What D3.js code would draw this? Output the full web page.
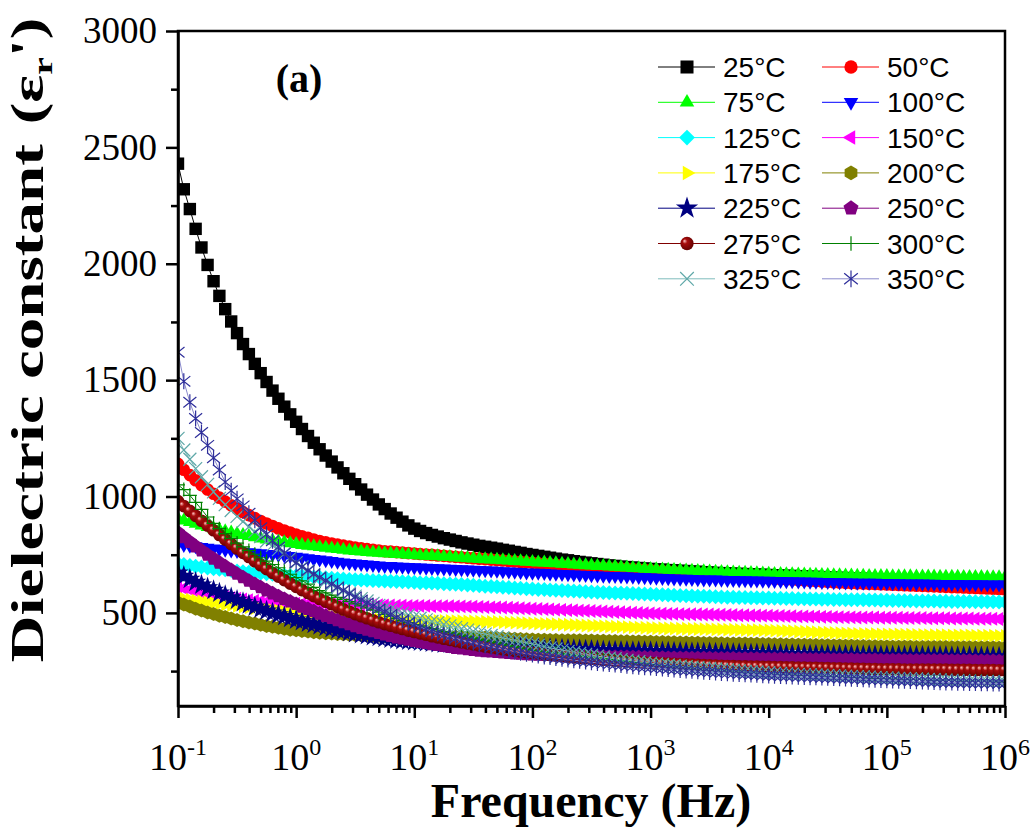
<!DOCTYPE html>
<html>
<head>
<meta charset="utf-8">
<script src="https://cdn.jsdelivr.net/npm/d3@7"></script>
<style>
  body { margin: 0; background: #fff; }
  svg { display: block; }
</style>
</head>
<body>
<svg id="chart" width="1033" height="831"></svg>
<script>
// frequency (Hz), 20 points per decade
var freqs = [0.1,0.112,0.126,0.141,0.158,0.178,0.2,0.224,0.251,0.282,0.316,0.355,0.398,0.447,0.501,0.562,0.631,0.708,0.794,0.891,
  1,1.12,1.26,1.41,1.58,1.78,2,2.24,2.51,2.82,3.16,3.55,3.98,4.47,5.01,5.62,6.31,7.08,7.94,8.91,
  10,11.2,12.6,14.1,15.8,17.8,20,22.4,25.1,28.2,31.6,35.5,39.8,44.7,50.1,56.2,63.1,70.8,79.4,89.1,
  100,112,126,141,158,178,200,224,251,282,316,355,398,447,501,562,631,708,794,891,
  1e3,1.12e3,1.26e3,1.41e3,1.58e3,1.78e3,2e3,2.24e3,2.51e3,2.82e3,3.16e3,3.55e3,3.98e3,4.47e3,5.01e3,5.62e3,6.31e3,7.08e3,7.94e3,8.91e3,
  1e4,1.12e4,1.26e4,1.41e4,1.58e4,1.78e4,2e4,2.24e4,2.51e4,2.82e4,3.16e4,3.55e4,3.98e4,4.47e4,5.01e4,5.62e4,6.31e4,7.08e4,7.94e4,8.91e4,
  1e5,1.12e5,1.26e5,1.41e5,1.58e5,1.78e5,2e5,2.24e5,2.51e5,2.82e5,3.16e5,3.55e5,3.98e5,4.47e5,5.01e5,5.62e5,6.31e5,7.08e5,7.94e5,8.91e5,
  1e6];

// dielectric constant for each temperature
var e25 = [2430,2320,2235,2150,2070,1995,1925,1862,1805,1752,1702,1655,1612,1570,1530,1492,1455,1420,1386,1353,
  1321,1290,1260,1231,1203,1176,1150,1125,1100,1076,1053,1030,1008,987,966,946,927,909,892,876,
  862,852,843,835,828,821,815,809,803,798,793,788,784,780,776,771,767,762,758,753,
  749,745,741,737,733,729,726,722,719,716,713,710,707,704,702,699,697,695,693,691,
  689,687,686,684,683,681,680,678,677,675,674,672,671,670,669,668,667,666,665,664,
  663,662,661,660,659,658,657,656,655,654,653,652,651,650,649,648,647,646,645,644,
  643,642,641,640,639,638,637,636,635,634,633,632,631,630,629,628,627,626,625,624,
  623];
var e50 = [1140,1115,1092,1070,1049,1030,1012,995,978,962,947,933,920,907,895,884,873,863,854,845,
  837,829,822,815,809,803,798,793,789,785,781,777,774,771,768,765,763,761,759,757,
  755,753,751,749,747,745,743,741,739,737,735,733,731,729,727,725,723,721,719,717,
  715,713,711,709,707,705,703,701,699,697,695,694,693,692,691,690,689,688,686,685,
  683,681,679,677,675,673,671,669,667,665,664,662,661,659,658,656,655,653,652,650,
  649,647,646,644,643,641,640,638,637,635,634,632,631,629,628,627,626,625,624,623,
  622,621,620,619,618,617,616,615,614,613,612,611,610,609,608,607,606,605,604,603,
  602];
var e75 = [905,897,890,883,876,869,863,857,851,845,840,835,830,825,820,815,811,807,803,799,
  796,792,789,786,783,780,777,774,771,768,766,764,762,760,758,756,755,753,752,750,
  749,747,746,744,743,741,740,738,737,735,734,732,731,729,728,726,725,723,722,720,
  719,717,716,714,713,711,710,708,707,705,704,702,701,699,698,696,695,693,692,690,
  689,687,686,685,684,683,682,681,680,679,678,677,676,675,674,673,672,671,670,669,
  668,667,667,666,666,665,665,664,664,663,663,662,662,661,661,660,660,659,659,658,
  658,657,657,657,657,656,656,656,656,655,655,655,655,654,654,654,654,653,653,653,
  653];
var e100 = [796,792,789,786,783,780,777,774,771,768,766,763,761,758,756,753,751,749,747,744,
  741,738,735,732,729,726,723,720,717,714,712,710,708,706,704,702,701,699,698,697,
  696,695,694,693,692,691,690,689,688,686,685,684,683,682,681,679,678,677,676,674,
  673,672,671,669,668,667,666,665,664,663,662,661,660,659,658,657,656,655,654,653,
  652,651,650,649,648,647,647,646,645,644,644,643,642,641,641,640,640,639,639,638,
  638,637,637,636,636,635,635,634,634,633,633,632,632,631,631,630,630,629,629,628,
  628,627,627,626,626,626,626,625,625,624,624,624,624,623,623,623,623,622,622,622,
  622];
var e125 = [712,708,704,700,697,693,690,687,685,682,680,677,675,672,670,668,666,664,663,661,
  660,658,656,654,653,651,649,647,646,644,642,641,640,639,638,637,636,635,634,633,
  632,630,629,628,627,625,624,623,622,620,619,617,615,613,612,610,609,607,606,604,
  603,601,600,598,597,596,595,594,593,591,590,589,588,587,586,585,584,583,582,581,
  580,579,578,577,576,575,574,573,572,571,570,569,568,567,567,566,566,565,565,564,
  564,563,563,562,562,561,561,560,560,559,559,558,558,557,557,556,556,555,555,554,
  554,553,553,552,552,551,551,551,551,550,550,549,549,549,549,548,548,548,548,547,
  547];
var e150 = [612,606,600,594,588,582,577,572,568,564,561,558,555,552,550,548,546,544,543,541,
  540,539,539,538,538,537,537,536,536,535,535,534,534,533,533,532,532,531,531,530,
  530,530,530,529,529,529,529,528,528,527,527,526,525,524,524,523,522,521,520,519,
  518,517,516,515,514,513,512,511,510,509,508,507,506,505,504,503,502,501,500,499,
  498,497,497,496,496,495,495,494,494,493,493,492,492,491,491,490,490,489,489,488,
  488,487,487,486,486,485,485,484,484,483,483,482,482,481,481,480,480,480,480,479,
  479,479,479,478,478,478,478,477,477,477,477,476,476,476,476,475,475,475,475,474,
  474];
var e175 = [565,561,557,553,550,546,543,539,536,533,530,527,524,521,518,515,512,509,506,503,
  500,497,495,492,490,487,485,483,481,479,477,475,474,473,472,471,470,469,469,468,
  468,467,467,466,466,465,465,464,464,463,463,462,462,461,461,460,459,458,457,456,
  455,454,453,452,451,450,449,448,447,446,445,444,443,442,441,440,439,438,437,436,
  435,434,434,433,433,432,432,431,431,430,430,429,429,428,428,427,427,426,426,425,
  425,424,423,422,421,420,419,418,417,416,415,414,413,412,411,410,410,409,409,408,
  408,407,407,406,406,405,405,404,404,404,404,403,403,403,403,402,402,402,402,401,
  401];
var e200 = [545,536,527,518,510,502,495,488,482,476,470,464,459,454,449,444,440,436,432,428,
  425,422,420,417,415,413,411,409,408,406,405,404,403,402,402,401,401,400,400,399,
  399,399,399,398,398,398,398,397,397,396,396,395,394,393,392,391,390,389,388,387,
  386,385,385,384,384,383,383,382,382,381,381,380,380,379,379,378,378,377,377,376,
  376,375,375,374,374,373,373,372,372,371,371,370,370,369,369,368,368,367,367,366,
  366,365,365,364,364,363,363,362,362,361,361,360,360,359,359,358,358,357,357,356,
  356,355,355,355,355,354,354,353,353,353,353,352,352,352,352,351,351,351,351,350,
  350];
var e225 = [672,658,645,632,620,608,597,586,575,565,555,545,535,526,517,508,500,492,485,477,
  470,463,457,451,445,439,433,427,422,417,412,407,403,399,395,391,388,385,382,379,
  377,375,373,371,369,367,366,364,363,361,360,359,358,357,356,355,354,353,352,351,
  350,349,348,347,346,345,344,343,342,341,340,339,338,337,337,336,336,335,335,334,
  334,333,333,332,332,331,331,330,330,329,329,328,328,327,327,326,326,325,325,324,
  324,323,323,322,322,321,321,320,320,319,319,318,318,318,318,317,317,317,317,316,
  316,316,316,315,315,315,315,314,314,314,314,313,313,313,313,312,312,312,312,311,
  311];
var e250 = [845,825,805,786,768,750,733,716,700,684,668,653,638,624,610,597,584,572,560,549,
  538,527,517,507,497,487,478,469,460,451,443,435,428,421,414,407,401,395,390,385,
  380,375,371,366,362,358,354,350,347,344,341,338,336,334,332,330,328,326,325,323,
  322,321,320,319,318,317,316,315,314,313,313,312,312,311,311,310,310,309,309,308,
  308,307,307,306,306,306,306,305,305,305,305,304,304,304,304,303,303,303,303,302,
  302,302,302,301,301,301,301,300,300,300,300,299,299,299,299,298,298,298,298,297,
  297,297,297,296,296,296,296,295,295,295,295,294,294,294,294,293,293,293,293,292,
  292];
var e275 = [980,959,938,917,896,875,855,835,815,796,777,758,740,722,705,688,672,656,641,626,
  612,598,585,572,560,548,537,526,515,505,495,486,477,468,460,452,445,438,431,424,
  418,412,406,400,395,389,384,379,374,369,365,360,356,352,348,344,341,337,334,331,
  328,325,322,319,317,314,312,309,307,305,303,301,299,297,295,293,292,290,289,287,
  286,284,283,282,281,280,279,278,277,276,275,274,273,272,271,270,270,269,269,268,
  268,267,267,266,266,265,265,264,264,263,263,262,262,261,261,260,260,259,259,258,
  258,258,258,257,257,257,257,256,256,256,256,255,255,255,255,254,254,254,254,253,
  253];
var e300 = [1050,1030,1005,975,945,912,885,862,841,820,800,784,768,752,737,722,708,694,680,666,
  652,638,624,610,596,586,576,567,558,548,539,530,521,512,503,494,485,476,467,458,
  450,444,438,432,427,421,416,410,405,399,393,387,382,376,371,366,360,355,350,345,
  340,337,334,331,328,325,322,319,316,313,310,307,304,301,298,295,292,289,286,283,
  280,278,276,274,272,270,268,266,264,262,260,258,256,254,252,250,248,246,244,242,
  240,239,238,237,235,234,233,232,231,230,229,228,227,226,225,224,222,221,220,219,
  218,217,217,216,215,214,214,213,212,211,211,210,209,208,208,207,206,205,205,204,
  203];
var e325 = [1250,1200,1160,1120,1085,1052,1020,992,965,940,915,892,870,849,828,809,790,772,755,735,
  715,697,680,665,650,636,622,609,596,584,572,561,551,541,532,523,515,507,499,491,
  484,477,470,463,457,450,444,438,432,426,420,414,409,403,398,392,387,382,377,372,
  367,361,355,350,345,340,335,330,326,322,318,314,310,306,303,299,296,293,290,287,
  284,281,279,276,274,271,269,267,265,263,261,259,257,255,253,251,249,247,246,244,
  243,241,240,238,237,236,235,234,233,232,231,230,229,228,227,226,225,224,223,222,
  221,220,219,218,217,216,215,214,213,212,211,210,209,208,207,206,205,204,204,203,
  202];
var e350 = [1620,1495,1405,1335,1275,1220,1166,1114,1062,1025,990,960,928,898,866,838,810,783,757,732,
  715,698,682,667,653,639,625,611,597,583,569,556,543,530,517,505,493,481,470,459,
  449,439,430,421,413,405,398,391,384,378,372,366,360,354,349,344,339,334,329,325,
  321,317,313,310,306,303,300,297,294,291,288,285,283,280,278,276,273,271,269,267,
  265,263,261,259,257,255,253,251,249,247,246,244,242,241,239,238,236,235,234,232,
  231,230,229,228,227,226,225,224,223,222,221,220,219,218,217,216,215,214,213,212,
  211,210,209,208,207,206,205,204,203,202,201,201,200,200,199,199,198,198,197,197,
  196];

var labels = ["25°C","50°C","75°C","100°C","125°C","150°C","175°C",
  "200°C","225°C","250°C","275°C","300°C","325°C","350°C"];
var yMajor = [500,1000,1500,2000,2500,3000];
var xExps = [-1,0,1,2,3,4,5,6];

var series = [
  {name: labels[0],  vals: e25,  color: "#000000", line: "#000000", shape: "square"},
  {name: labels[1],  vals: e50,  color: "#ff0000", line: "#ff0000", shape: "circle"},
  {name: labels[2],  vals: e75,  color: "#00ff00", line: "#00ff00", shape: "triUp"},
  {name: labels[3],  vals: e100, color: "#0000ff", line: "#0000ff", shape: "triDown"},
  {name: labels[4],  vals: e125, color: "#00ffff", line: "#00ffff", shape: "diamond"},
  {name: labels[5],  vals: e150, color: "#ff00ff", line: "#ff00ff", shape: "triLeft"},
  {name: labels[6],  vals: e175, color: "#ffff00", line: "#ffff00", shape: "triRight"},
  {name: labels[7],  vals: e200, color: "#808000", line: "#808000", shape: "hexagon"},
  {name: labels[8],  vals: e225, color: "#000080", line: "#000080", shape: "star"},
  {name: labels[9],  vals: e250, color: "#800080", line: "#800080", shape: "pentagon"},
  {name: labels[10], vals: e275, color: "#800000", line: "#800000", shape: "sphere"},
  {name: labels[11], vals: e300, color: "#008000", line: "#008000", shape: "plus"},
  {name: labels[12], vals: e325, color: "#5fa8a8", line: "#7fbcbc", shape: "cross"},
  {name: labels[13], vals: e350, color: "#2e2e9a", line: "#8a8acc", shape: "aster"}
];

var svg = d3.select("#chart");
var pLeft = 178, pRight = 1005, pTop = 31, pBottom = 706;

var x = d3.scaleLog().domain([0.1, 1e6]).range([pLeft, pRight]);
var y = d3.scaleLinear().domain([100, 3000]).range([pBottom, pTop]);

var defs = svg.append("defs");
defs.append("clipPath").attr("id", "plotclip")
  .append("rect").attr("x", pLeft).attr("y", pTop)
  .attr("width", pRight - pLeft).attr("height", pBottom - pTop);
var grad = defs.append("radialGradient").attr("id", "sphere")
  .attr("cx", "45%").attr("cy", "45%").attr("r", "60%")
  .attr("fx", "30%").attr("fy", "30%");
grad.append("stop").attr("offset", "0%").attr("stop-color", "#ffc8c8");
grad.append("stop").attr("offset", "30%").attr("stop-color", "#a80c0c");
grad.append("stop").attr("offset", "100%").attr("stop-color", "#600000");

function poly(n, r, rot) {
  var pts = [];
  for (var i = 0; i < n; i++) {
    var a = (rot + i * 360 / n) * Math.PI / 180;
    pts.push([r * Math.cos(a), r * Math.sin(a)]);
  }
  return "M" + pts.map(function(p) { return p[0].toFixed(2) + "," + p[1].toFixed(2); }).join("L") + "Z";
}

// marker outlines, k scales them (legend is a bit bigger)
function shapePath(shape, k) {
  switch (shape) {
    case "square": var h = 6.2 * k; return "M" + (-h) + "," + (-h) + "h" + 2 * h + "v" + 2 * h + "h" + (-2 * h) + "Z";
    case "circle":
    case "sphere": return d3.symbol(d3.symbolCircle, Math.PI * 40 * k * k)();
    case "triUp": return poly(3, 8 * k, -90);
    case "triDown": return poly(3, 8 * k, 90);
    case "triLeft": return poly(3, 8 * k, 180);
    case "triRight": return poly(3, 8 * k, 0);
    case "diamond": return poly(4, 7.5 * k, -90);
    case "hexagon": return poly(6, 7 * k, -90);
    case "pentagon": return poly(5, 7.5 * k, -90);
    case "star": return d3.symbol(d3.symbolStar, 140 * k * k)();
    case "plus": var p = 7 * k; return "M" + (-p) + ",0H" + p + "M0," + (-p) + "V" + p;
    case "cross": var c = 6.5 * k; return "M" + (-c) + "," + (-c) + "L" + c + "," + c + "M" + (-c) + "," + c + "L" + c + "," + (-c);
    case "aster": var a = 8 * k, b = 6.5 * k; return "M0," + (-a) + "V" + a + "M" + (-b) + "," + (-b * 0.8) + "L" + b + "," + (b * 0.8) + "M" + (-b) + "," + (b * 0.8) + "L" + b + "," + (-b * 0.8);
  }
}

function styleMarker(sel, s) {
  var stroked = (s.shape == "plus" || s.shape == "cross" || s.shape == "aster");
  sel.attr("fill", stroked ? "none" : (s.shape == "sphere" ? "url(#sphere)" : s.color))
    .attr("stroke", stroked ? s.color : "none")
    .attr("stroke-width", stroked ? 1.2 : 0);
}

// data
var plot = svg.append("g").attr("clip-path", "url(#plotclip)");
var line = d3.line().x(function(d) { return x(d[0]); }).y(function(d) { return y(d[1]); });

series.forEach(function(s) {
  var pts = d3.zip(freqs, s.vals);
  var g = plot.append("g");
  g.append("path").datum(pts)
    .attr("d", line).attr("fill", "none")
    .attr("stroke", s.line).attr("stroke-width", 1);
  g.selectAll("path.m").data(pts).join("path")
    .attr("class", "m")
    .attr("transform", function(d) { return "translate(" + x(d[0]) + "," + y(d[1]) + ")"; })
    .attr("d", shapePath(s.shape, 1))
    .call(styleMarker, s);
});

// frame
svg.append("rect").attr("x", pLeft).attr("y", pTop)
  .attr("width", pRight - pLeft).attr("height", pBottom - pTop)
  .attr("fill", "none").attr("stroke", "#000").attr("stroke-width", 2.5);

// y axis
var yAxisG = svg.append("g").attr("transform", "translate(" + pLeft + ",0)")
  .call(d3.axisLeft(y).tickValues(yMajor).tickSize(12).tickSizeOuter(0).tickPadding(9).tickFormat(d3.format("d")));
yAxisG.append("g").call(d3.axisLeft(y).tickValues(d3.range(250, 3000, 500)).tickSize(7).tickFormat(""))
  .select(".domain").remove();
yAxisG.selectAll("text").attr("font-family", "'Liberation Serif', 'Times New Roman', serif")
  .attr("font-size", 37).attr("fill", "#000");

// x axis
var xAxisG = svg.append("g").attr("transform", "translate(0," + pBottom + ")")
  .call(d3.axisBottom(x).tickValues(xExps.map(function(e) { return Math.pow(10, e); }))
    .tickSize(12).tickSizeOuter(0).tickFormat(""));
var minor = x.ticks().filter(function(t) { return Math.abs(Math.log10(t) - Math.round(Math.log10(t))) > 1e-6; });
xAxisG.append("g").call(d3.axisBottom(x).tickValues(minor).tickSize(7).tickFormat(""))
  .select(".domain").remove();
svg.selectAll(".domain, .tick line").attr("stroke", "#000").attr("stroke-width", 2.5);

var xl = svg.append("g").attr("font-family", "'Liberation Serif', 'Times New Roman', serif").attr("fill", "#000");
xExps.forEach(function(e) {
  var t = xl.append("text").attr("x", x(Math.pow(10, e))).attr("y", 770)
    .attr("text-anchor", "middle").attr("font-size", 38);
  t.append("tspan").text("10");
  t.append("tspan").attr("dy", -15).attr("font-size", 24).text(e);
});

// axis titles
svg.append("text").attr("x", 591).attr("y", 817).attr("text-anchor", "middle")
  .attr("font-family", "'Liberation Serif', 'Times New Roman', serif")
  .attr("font-weight", "bold").attr("font-size", 48).text("Frequency (Hz)");

var yt = svg.append("text").attr("transform", "translate(43,340) rotate(-90)")
  .attr("text-anchor", "middle")
  .attr("font-family", "'Liberation Serif', 'Times New Roman', serif")
  .attr("font-weight", "bold").attr("font-size", 46)
  .attr("textLength", 645).attr("lengthAdjust", "spacingAndGlyphs");
yt.append("tspan").text("Dielectric constant");
yt.append("tspan").attr("dx", 14).text("(ε");
yt.append("tspan").attr("dy", 9).attr("font-size", 28).text("r");
yt.append("tspan").attr("dy", -9).text("')");

svg.append("text").attr("x", 299).attr("y", 92).attr("text-anchor", "middle")
  .attr("font-family", "'Liberation Serif', 'Times New Roman', serif")
  .attr("font-weight", "bold").attr("font-size", 40).text("(a)");

// legend
var legend = svg.append("g");
series.forEach(function(s, i) {
  var lx = i % 2 == 0 ? 658 : 822;
  var ly = 67 + Math.floor(i / 2) * 35.3;
  var g = legend.append("g");
  g.append("line").attr("x1", lx).attr("x2", lx + 57).attr("y1", ly).attr("y2", ly)
    .attr("stroke", s.line).attr("stroke-width", 1);
  g.append("path").attr("transform", "translate(" + (lx + 29) + "," + ly + ")")
    .attr("d", shapePath(s.shape, 1.05)).call(styleMarker, s);
  g.append("text").attr("x", lx + 65).attr("y", ly).attr("dy", "0.36em")
    .attr("font-family", "'Liberation Sans', Arial, sans-serif")
    .attr("font-size", 28).attr("fill", "#000").text(s.name);
});
</script>
</body>
</html>
